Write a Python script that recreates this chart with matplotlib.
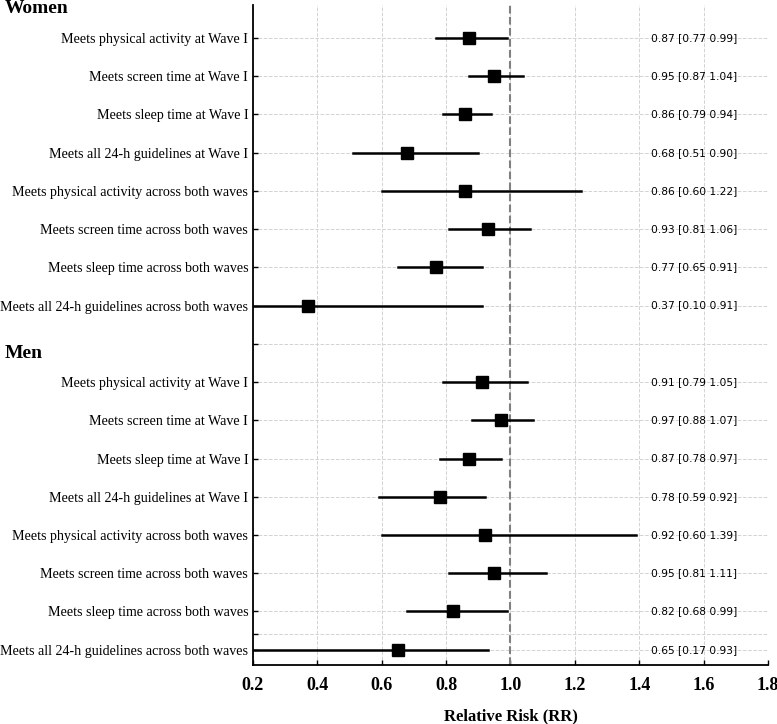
import matplotlib
matplotlib.use("Agg")
import matplotlib.pyplot as plt

# Relative risk and 95% CI for each outcome
labels = [
    "Meets physical activity at Wave I",
    "Meets screen time at Wave I",
    "Meets sleep time at Wave I",
    "Meets all 24-h guidelines at Wave I",
    "Meets physical activity across both waves",
    "Meets screen time across both waves",
    "Meets sleep time across both waves",
    "Meets all 24-h guidelines across both waves",
]
women_rr = [0.87, 0.95, 0.86, 0.68, 0.86, 0.93, 0.77, 0.37]
women_lo = [0.77, 0.87, 0.79, 0.51, 0.60, 0.81, 0.65, 0.10]
women_hi = [0.99, 1.04, 0.94, 0.90, 1.22, 1.06, 0.91, 0.91]
men_rr = [0.91, 0.97, 0.87, 0.78, 0.92, 0.95, 0.82, 0.65]
men_lo = [0.79, 0.88, 0.78, 0.59, 0.60, 0.81, 0.68, 0.17]
men_hi = [1.05, 1.07, 0.97, 0.92, 1.39, 1.11, 0.99, 0.93]
xticks = [0.2, 0.4, 0.6, 0.8, 1.0, 1.2, 1.4, 1.6, 1.8]

serif = "Liberation Serif"

fig = plt.figure(figsize=(7.77, 7.24), dpi=100)
ax = fig.add_axes([0.3256, 0.0815, 0.6628, 0.9116])

rr = women_rr + men_rr
lo = women_lo + men_lo
hi = women_hi + men_hi
ypos = list(range(8)) + list(range(9, 17))

for y, r, l, h in zip(ypos, rr, lo, hi):
    ax.plot([l, h], [y, y], color="black", lw=1.8, zorder=3)
    ax.plot(r, y, marker="s", color="black", markersize=9, zorder=4)
    ax.text(1.435, y, f"{r:.2f} [{l:.2f} {h:.2f}]", fontsize=7.7,
            va="center", ha="left", family="DejaVu Sans")

ax.axvline(1.0, color="#808080", linestyle="--", lw=1.5, zorder=2)

ax.set_xlim(0.2, 1.8)
ax.set_ylim(16.4, -0.86)
ax.set_xticks(xticks)
ax.set_xticklabels([f"{t:.1f}" for t in xticks], fontsize=13,
                   fontweight="bold", family=serif)
yt = ypos + [8, 15.6]
ax.set_yticks(yt)
ax.set_yticklabels(labels + labels + ["", ""], fontsize=10.1, family=serif)
ax.tick_params(axis="both", direction="in", length=3.5, width=1.0)
ax.tick_params(axis="x", pad=9)
ax.grid(True, linestyle="--", color="#d3d3d3", lw=0.7, zorder=0)

for s in ["top", "right"]:
    ax.spines[s].set_visible(False)
ax.spines["left"].set_linewidth(1.3)
ax.spines["bottom"].set_linewidth(1.3)

ax.set_xlabel("Relative Risk (RR)", fontsize=12, fontweight="bold",
              family=serif, labelpad=10)

fig.text(5 / 777, 1 - 13 / 724, "Women", fontsize=14, fontweight="bold",
         family=serif, va="baseline", ha="left")
fig.text(5 / 777, 1 - 358 / 724, "Men", fontsize=14, fontweight="bold",
         family=serif, va="baseline", ha="left")

fig.savefig("out.png", dpi=100)
